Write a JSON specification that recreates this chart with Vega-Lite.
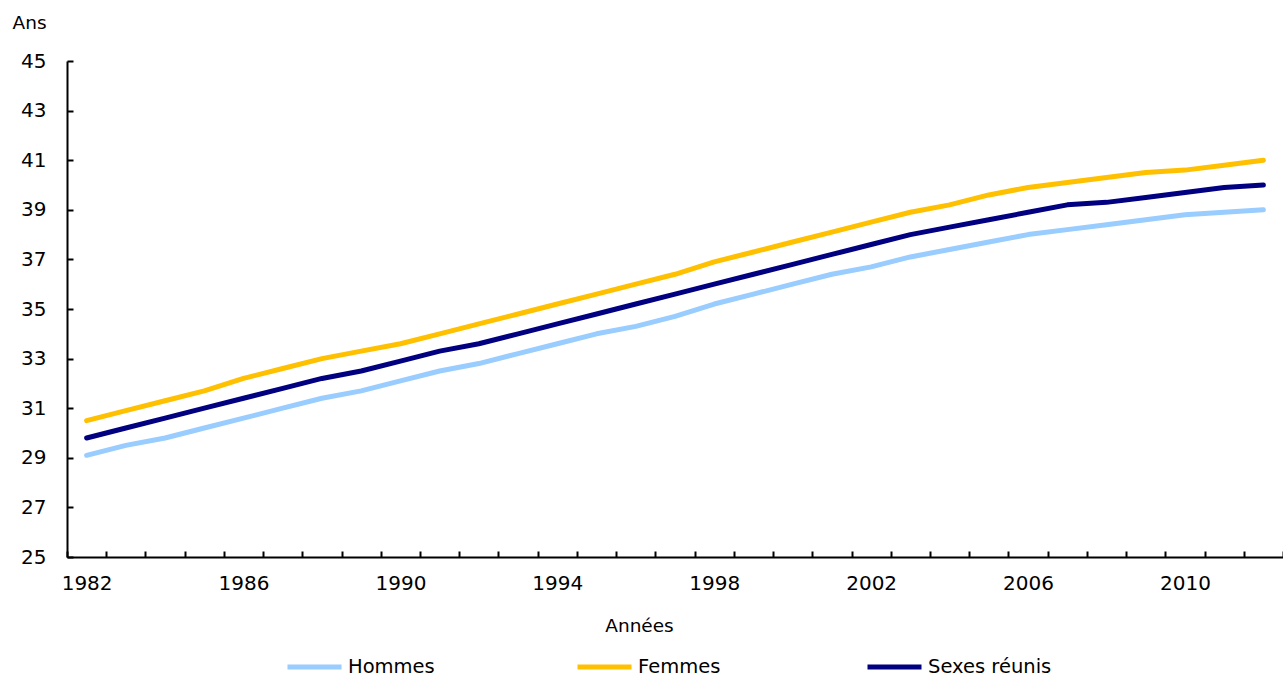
{
  "$schema": "https://vega.github.io/schema/vega-lite/v6.json",
  "width": 1216,
  "height": 496,
  "autosize": {"type": "none"},
  "padding": {"left": 67, "top": 61, "right": 0, "bottom": 120},
  "background": "white",
  "config": {
    "view": {"stroke": null},
    "font": "DejaVu Sans",
    "axis": {"labelFont": "DejaVu Sans", "titleFont": "DejaVu Sans", "labelColor": "#000", "titleColor": "#000", "grid": false, "domainColor": "#000", "tickColor": "#000", "domainWidth": 2, "tickWidth": 2, "labelFontSize": 20, "titleFontSize": 18.5, "titleFontWeight": "normal"},
    "legend": {"labelFont": "DejaVu Sans", "labelFontSize": 19.5, "labelColor": "#000"}
  },
  "data": {
    "values": [
      {"year": 1982, "s": "Hommes", "v": 29.1}, {"year": 1983, "s": "Hommes", "v": 29.5}, {"year": 1984, "s": "Hommes", "v": 29.8}, {"year": 1985, "s": "Hommes", "v": 30.2}, {"year": 1986, "s": "Hommes", "v": 30.6}, {"year": 1987, "s": "Hommes", "v": 31.0}, {"year": 1988, "s": "Hommes", "v": 31.4}, {"year": 1989, "s": "Hommes", "v": 31.7}, {"year": 1990, "s": "Hommes", "v": 32.1}, {"year": 1991, "s": "Hommes", "v": 32.5}, {"year": 1992, "s": "Hommes", "v": 32.8}, {"year": 1993, "s": "Hommes", "v": 33.2}, {"year": 1994, "s": "Hommes", "v": 33.6}, {"year": 1995, "s": "Hommes", "v": 34.0}, {"year": 1996, "s": "Hommes", "v": 34.3}, {"year": 1997, "s": "Hommes", "v": 34.7}, {"year": 1998, "s": "Hommes", "v": 35.2}, {"year": 1999, "s": "Hommes", "v": 35.6}, {"year": 2000, "s": "Hommes", "v": 36.0}, {"year": 2001, "s": "Hommes", "v": 36.4}, {"year": 2002, "s": "Hommes", "v": 36.7}, {"year": 2003, "s": "Hommes", "v": 37.1}, {"year": 2004, "s": "Hommes", "v": 37.4}, {"year": 2005, "s": "Hommes", "v": 37.7}, {"year": 2006, "s": "Hommes", "v": 38.0}, {"year": 2007, "s": "Hommes", "v": 38.2}, {"year": 2008, "s": "Hommes", "v": 38.4}, {"year": 2009, "s": "Hommes", "v": 38.6}, {"year": 2010, "s": "Hommes", "v": 38.8}, {"year": 2011, "s": "Hommes", "v": 38.9}, {"year": 2012, "s": "Hommes", "v": 39.0},
      {"year": 1982, "s": "Femmes", "v": 30.5}, {"year": 1983, "s": "Femmes", "v": 30.9}, {"year": 1984, "s": "Femmes", "v": 31.3}, {"year": 1985, "s": "Femmes", "v": 31.7}, {"year": 1986, "s": "Femmes", "v": 32.2}, {"year": 1987, "s": "Femmes", "v": 32.6}, {"year": 1988, "s": "Femmes", "v": 33.0}, {"year": 1989, "s": "Femmes", "v": 33.3}, {"year": 1990, "s": "Femmes", "v": 33.6}, {"year": 1991, "s": "Femmes", "v": 34.0}, {"year": 1992, "s": "Femmes", "v": 34.4}, {"year": 1993, "s": "Femmes", "v": 34.8}, {"year": 1994, "s": "Femmes", "v": 35.2}, {"year": 1995, "s": "Femmes", "v": 35.6}, {"year": 1996, "s": "Femmes", "v": 36.0}, {"year": 1997, "s": "Femmes", "v": 36.4}, {"year": 1998, "s": "Femmes", "v": 36.9}, {"year": 1999, "s": "Femmes", "v": 37.3}, {"year": 2000, "s": "Femmes", "v": 37.7}, {"year": 2001, "s": "Femmes", "v": 38.1}, {"year": 2002, "s": "Femmes", "v": 38.5}, {"year": 2003, "s": "Femmes", "v": 38.9}, {"year": 2004, "s": "Femmes", "v": 39.2}, {"year": 2005, "s": "Femmes", "v": 39.6}, {"year": 2006, "s": "Femmes", "v": 39.9}, {"year": 2007, "s": "Femmes", "v": 40.1}, {"year": 2008, "s": "Femmes", "v": 40.3}, {"year": 2009, "s": "Femmes", "v": 40.5}, {"year": 2010, "s": "Femmes", "v": 40.6}, {"year": 2011, "s": "Femmes", "v": 40.8}, {"year": 2012, "s": "Femmes", "v": 41.0},
      {"year": 1982, "s": "Sexes réunis", "v": 29.8}, {"year": 1983, "s": "Sexes réunis", "v": 30.2}, {"year": 1984, "s": "Sexes réunis", "v": 30.6}, {"year": 1985, "s": "Sexes réunis", "v": 31.0}, {"year": 1986, "s": "Sexes réunis", "v": 31.4}, {"year": 1987, "s": "Sexes réunis", "v": 31.8}, {"year": 1988, "s": "Sexes réunis", "v": 32.2}, {"year": 1989, "s": "Sexes réunis", "v": 32.5}, {"year": 1990, "s": "Sexes réunis", "v": 32.9}, {"year": 1991, "s": "Sexes réunis", "v": 33.3}, {"year": 1992, "s": "Sexes réunis", "v": 33.6}, {"year": 1993, "s": "Sexes réunis", "v": 34.0}, {"year": 1994, "s": "Sexes réunis", "v": 34.4}, {"year": 1995, "s": "Sexes réunis", "v": 34.8}, {"year": 1996, "s": "Sexes réunis", "v": 35.2}, {"year": 1997, "s": "Sexes réunis", "v": 35.6}, {"year": 1998, "s": "Sexes réunis", "v": 36.0}, {"year": 1999, "s": "Sexes réunis", "v": 36.4}, {"year": 2000, "s": "Sexes réunis", "v": 36.8}, {"year": 2001, "s": "Sexes réunis", "v": 37.2}, {"year": 2002, "s": "Sexes réunis", "v": 37.6}, {"year": 2003, "s": "Sexes réunis", "v": 38.0}, {"year": 2004, "s": "Sexes réunis", "v": 38.3}, {"year": 2005, "s": "Sexes réunis", "v": 38.6}, {"year": 2006, "s": "Sexes réunis", "v": 38.9}, {"year": 2007, "s": "Sexes réunis", "v": 39.2}, {"year": 2008, "s": "Sexes réunis", "v": 39.3}, {"year": 2009, "s": "Sexes réunis", "v": 39.5}, {"year": 2010, "s": "Sexes réunis", "v": 39.7}, {"year": 2011, "s": "Sexes réunis", "v": 39.9}, {"year": 2012, "s": "Sexes réunis", "v": 40.0}
    ]
  },
  "mark": {"type": "line", "strokeWidth": 5, "strokeCap": "round", "strokeJoin": "round"},
  "encoding": {
    "x": {
      "field": "year",
      "type": "ordinal",
      "bandPosition": 0.5,
      "scale": {"type": "band", "paddingInner": 0, "paddingOuter": 0},
      "axis": {
        "title": "Années",
        "labelAngle": 0,
        "tickBand": "extent",
        "tickSize": -6,
        "labelPadding": 22,
        "labelOverlap": false,
        "labelExpr": "(datum.value - 1982) % 4 == 0 ? datum.label : ''",
        "titleX": 572,
        "titleY": 68,
        "titleBaseline": "middle"
      }
    },
    "y": {
      "field": "v",
      "type": "quantitative",
      "scale": {"domain": [25, 45], "nice": false, "zero": false},
      "axis": {
        "title": "Ans",
        "values": [25, 27, 29, 31, 33, 35, 37, 39, 41, 43, 45],
        "tickSize": -6,
        "labelPadding": 27,
        "titleAngle": 0,
        "titleX": -55,
        "titleY": -39,
        "titleAlign": "left",
        "titleBaseline": "middle"
      }
    },
    "color": {
      "field": "s",
      "type": "nominal",
      "scale": {"domain": ["Hommes", "Femmes", "Sexes réunis"], "range": ["#99CCFF", "#FFC000", "#000080"]},
      "legend": {
        "title": null,
        "orient": "none",
        "direction": "horizontal",
        "legendX": 218,
        "legendY": 595,
        "symbolSize": 2916,
        "symbolStrokeWidth": 5,
        "clipHeight": 22,
        "labelOffset": 4,
        "gridAlign": "all",
        "columnPadding": 103
      }
    }
  }
}
